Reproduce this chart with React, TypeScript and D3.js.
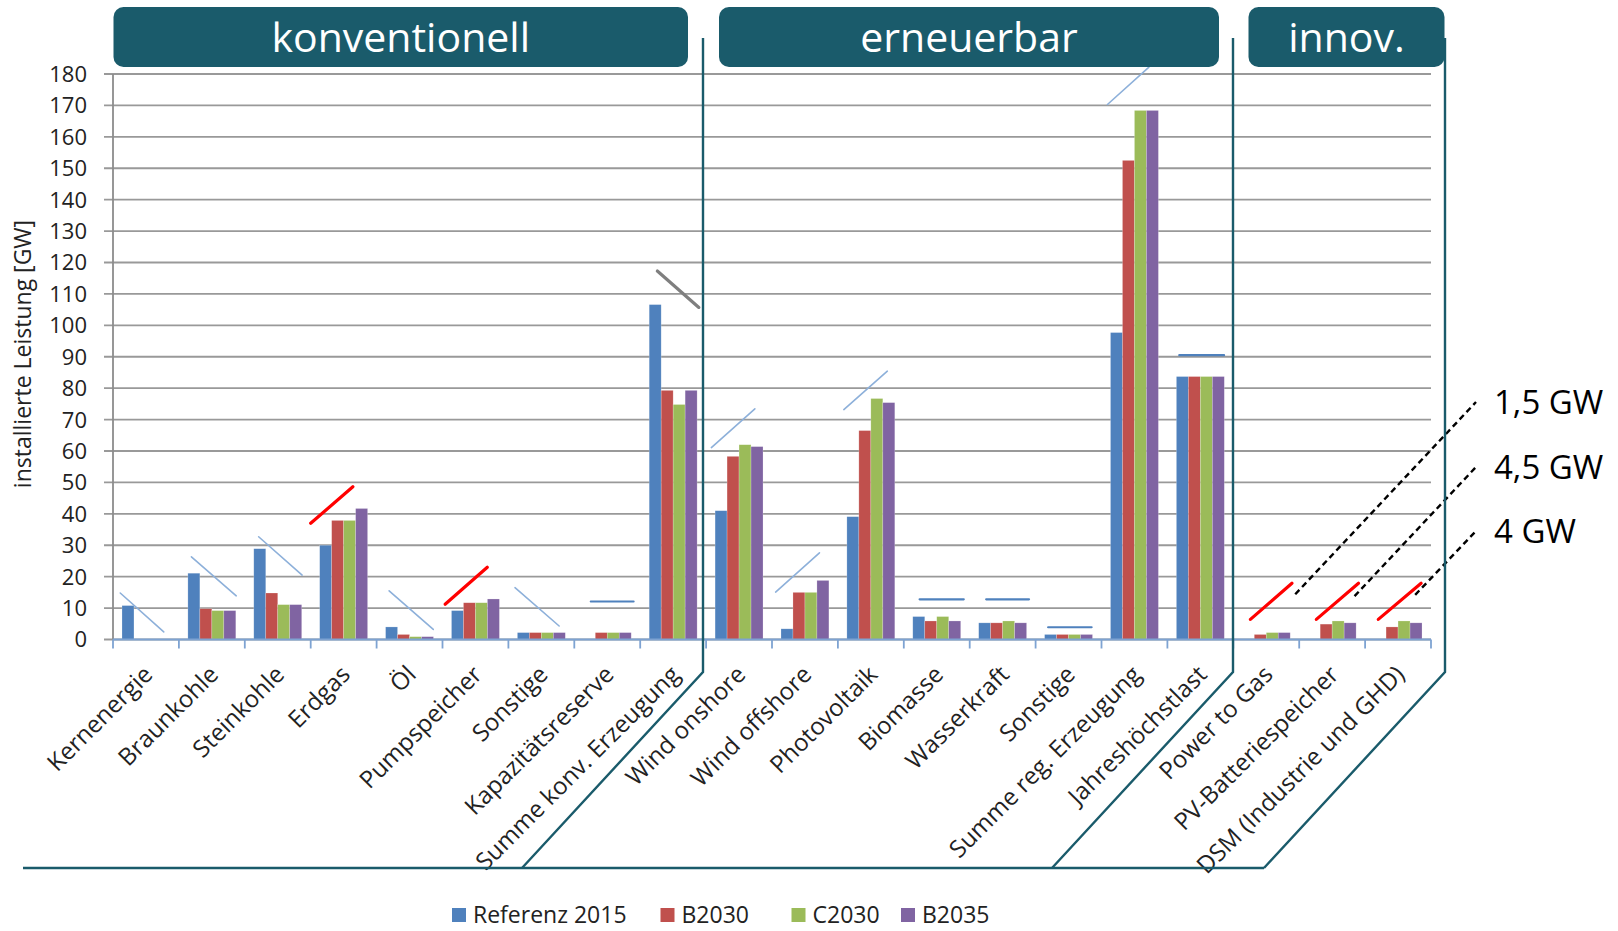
import * as d3 from "d3";
import React from "react";

const categories = [
  "Kernenergie",
  "Braunkohle",
  "Steinkohle",
  "Erdgas",
  "Öl",
  "Pumpspeicher",
  "Sonstige",
  "Kapazitätsreserve",
  "Summe konv. Erzeugung",
  "Wind onshore",
  "Wind offshore",
  "Photovoltaik",
  "Biomasse",
  "Wasserkraft",
  "Sonstige ",
  "Summe reg. Erzeugung",
  "Jahreshöchstlast",
  "Power to Gas",
  "PV-Batteriespeicher",
  "DSM (Industrie und GHD)",
];

const seriesNames = ["Referenz 2015", "B2030", "C2030", "B2035"];
const referenz2015 = [10.8, 21.1, 28.9, 30.0, 4.0, 9.2, 2.2, 0, 106.6, 41.0, 3.4, 39.1, 7.3, 5.3, 1.6, 97.7, 83.7, 0, 0, 0];
const b2030 = [0, 9.8, 14.8, 37.9, 1.6, 11.7, 2.2, 2.2, 79.3, 58.3, 15.0, 66.5, 5.9, 5.3, 1.6, 152.5, 83.7, 1.6, 4.9, 4.0];
const c2030 = [0, 9.2, 11.1, 37.9, 0.9, 11.7, 2.2, 2.2, 74.8, 62.0, 15.0, 76.7, 7.3, 5.9, 1.6, 168.4, 83.7, 2.2, 5.9, 5.9];
const b2035 = [0, 9.2, 11.1, 41.7, 0.9, 12.9, 2.2, 2.2, 79.3, 61.4, 18.8, 75.4, 5.9, 5.3, 1.6, 168.4, 83.7, 2.2, 5.3, 5.3];
const seriesValues = [referenz2015, b2030, c2030, b2035];
const seriesColors = ["#4F81BD", "#C0504D", "#9BBB59", "#8064A2"];

const yTicks = [0, 10, 20, 30, 40, 50, 60, 70, 80, 90, 100, 110, 120, 130, 140, 150, 160, 170, 180];

// trend marks drawn over the bars: position in category units (index + fraction), value in GW
const trendX0 = [0.11, 1.19, 2.21, 3.0, 4.19, 5.04, 6.1, 7.25, 8.26, 9.08, 10.055, 11.09, 12.24, 13.25, 14.19, 15.09, 16.18, 17.26, 18.26, 19.2];
const trendX1 = [0.77, 1.87, 2.87, 3.64, 4.86, 5.68, 6.77, 7.9, 8.89, 9.74, 10.72, 11.75, 12.91, 13.9, 14.85, 15.72, 16.86, 17.89, 18.9, 19.85];
const trendV0 = [14.8, 26.3, 32.7, 37.0, 15.5, 11.2, 16.5, 12.1, 117.3, 61.1, 15.1, 73.2, 12.8, 12.8, 3.9, 170.3, 90.5, 6.4, 6.4, 6.4];
const trendV1 = [2.4, 13.9, 20.5, 48.6, 3.2, 23.0, 4.3, 12.1, 105.7, 73.4, 27.6, 85.4, 12.8, 12.8, 3.9, 182.2, 90.5, 17.9, 17.9, 17.9];
const trendKind = ["down", "down", "down", "up", "down", "up", "down", "flat", "grey", "thin", "thin", "thin", "flat", "flat", "flat", "thin", "flat", "up", "up", "up"];

// callouts for the innovative options
const calloutText = ["1,5 GW", "4,5 GW", "4 GW"];
const calloutX = [17.94, 18.84, 19.76];
const calloutV = [14.4, 13.8, 14.2];

const groupNames = ["konventionell", "erneuerbar", "innov."];

const W = 1618;
const H = 931;
const FONT = "'Open Sans', 'Noto Sans', sans-serif";
const TEAL = "#1A5B6B";

const left = 113;
const right = 1431;
const top = 74;
const bottom = 639.5;

const trendStyle: Record<string, { stroke: string; width: number }> = {
  down: { stroke: "#8DB0DA", width: 1.6 },
  thin: { stroke: "#8DB0DA", width: 1.6 },
  up: { stroke: "#FF0000", width: 3.2 },
  flat: { stroke: "#4F81BD", width: 2.2 },
  grey: { stroke: "#7F7F7F", width: 3.2 },
};

export default function App() {
  const x0 = d3.scaleBand<string>().domain(categories).range([left, right]).padding(0);
  const band = x0.bandwidth();
  const bw = band / 5.5;
  const x1 = d3.scaleBand<string>().domain(seriesNames).range([bw * 0.75, band - bw * 0.75]);
  const xc = d3.scaleLinear().domain([0, categories.length]).range([left, right]);
  const y = d3.scaleLinear().domain([0, 180]).range([bottom, top]);

  const boxes = [
    { x: 113.5, w: 574.5 },
    { x: 719, w: 500 },
    { x: 1248.5, w: 196 },
  ];
  const seps = [703, 1233, 1445];

  const labelY = [402, 467, 531];
  const legendX = [452, 660.5, 791.5, 901];

  return (
    <svg width={W} height={H} style={{ position: "absolute", left: 0, top: 0, background: "#fff" }} fontFamily={FONT}>
      <rect width={W} height={H} fill="#fff" />

      {/* gridlines and y axis */}
      {yTicks.map((t) => (
        <g key={t}>
          <line x1={104} x2={right} y1={y(t)} y2={y(t)} stroke="#999999" strokeWidth={1.9} />
          <text x={87} y={y(t)} dy="0.36em" textAnchor="end" fontSize={22} fill="#222">
            {t}
          </text>
        </g>
      ))}
      <line x1={left} x2={left} y1={top} y2={bottom} stroke="#8C8C8C" strokeWidth={1.8} />

      {/* bars */}
      {categories.map((c, i) => (
        <g key={c} transform={`translate(${x0(c)},0)`}>
          {seriesNames.map((s, k) => {
            const v = seriesValues[k][i];
            if (!v) return null;
            return (
              <rect
                key={s}
                x={x1(s)}
                y={y(v)}
                width={x1.bandwidth()}
                height={y(0) - y(v)}
                fill={seriesColors[k]}
                stroke="#ffffff"
                strokeOpacity={0.35}
                strokeWidth={0.6}
              />
            );
          })}
        </g>
      ))}

      {/* x axis */}
      <line x1={left} x2={right} y1={bottom} y2={bottom} stroke="#7EA3D2" strokeWidth={2} />
      {d3.range(categories.length + 1).map((i) => (
        <line key={i} x1={xc(i)} x2={xc(i)} y1={bottom} y2={bottom + 9} stroke="#7EA3D2" strokeWidth={1.8} />
      ))}
      {categories.map((c) => (
        <text
          key={c}
          transform={`translate(${x0(c)! + band / 2 + 8},676) rotate(-45)`}
          textAnchor="end"
          fontSize={24}
          fill="#222"
        >
          {c.trim()}
        </text>
      ))}

      {/* trend marks */}
      {categories.map((c, i) => {
        const st = trendStyle[trendKind[i]];
        return (
          <line
            key={"t" + i}
            x1={xc(trendX0[i])}
            x2={xc(trendX1[i])}
            y1={y(trendV0[i])}
            y2={y(trendV1[i])}
            stroke={st.stroke}
            strokeWidth={st.width}
            strokeLinecap="round"
          />
        );
      })}

      {/* callouts */}
      {calloutText.map((t, i) => (
        <g key={t}>
          <line
            x1={xc(calloutX[i])}
            y1={y(calloutV[i])}
            x2={1476}
            y2={labelY[i]}
            stroke="#000"
            strokeWidth={2.4}
            strokeDasharray="6 4"
          />
          <text x={1494} y={labelY[i]} dy="0.36em" fontSize={33} fill="#000">
            {t}
          </text>
        </g>
      ))}

      {/* group separators */}
      {seps.map((sx) => (
        <path key={sx} d={`M${sx},38 V672 L${sx - 181},868`} fill="none" stroke={TEAL} strokeWidth={2.4} />
      ))}
      <line x1={23} x2={1264} y1={868} y2={868} stroke={TEAL} strokeWidth={2.4} />

      {/* group headers */}
      {groupNames.map((g, i) => (
        <g key={g}>
          <rect x={boxes[i].x} y={7} width={boxes[i].w} height={60} rx={10} fill={TEAL} />
          <text x={boxes[i].x + boxes[i].w / 2} y={37} dy="0.36em" textAnchor="middle" fontSize={41} fill="#fff">
            {g}
          </text>
        </g>
      ))}

      {/* y axis title */}
      <text transform="translate(23,354) rotate(-90)" textAnchor="middle" dy="0.36em" fontSize={23} fill="#222">
        installierte Leistung [GW]
      </text>

      {/* legend */}
      {seriesNames.map((s, k) => (
        <g key={s}>
          <rect x={legendX[k]} y={908} width={14} height={14} fill={seriesColors[k]} />
          <text x={legendX[k] + 21} y={915} dy="0.36em" fontSize={23} fill="#222">
            {s}
          </text>
        </g>
      ))}
    </svg>
  );
}
